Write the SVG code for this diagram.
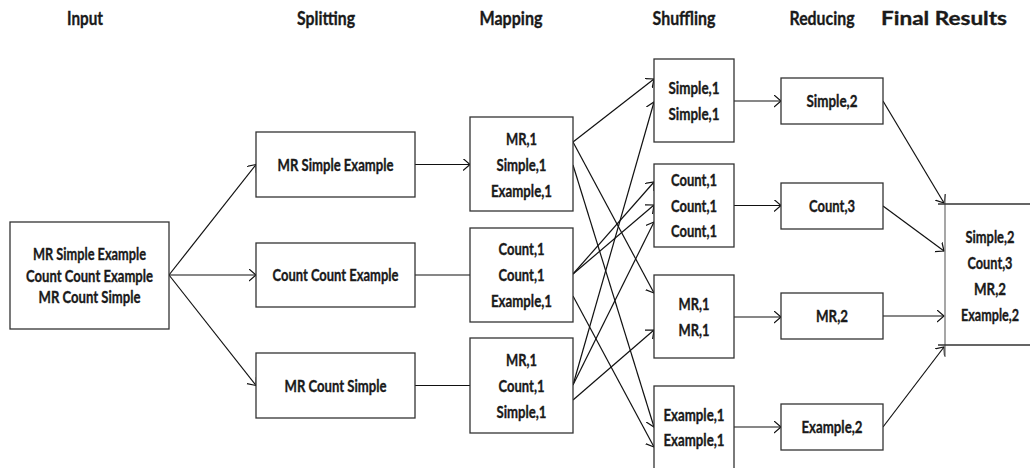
<svg xmlns="http://www.w3.org/2000/svg" width="1030" height="468" viewBox="0 0 1030 468">
<style>
.box{fill:#fff;stroke:#333;stroke-width:1.3}
.t{font-family:Lato,"Liberation Sans",sans-serif;font-weight:bold;font-size:17px;fill:#1a1a1a;stroke:#1a1a1a;stroke-width:0.35;text-anchor:middle}
.h{font-family:Lato,"Liberation Sans",sans-serif;font-weight:bold;font-size:19px;fill:#1a1a1a;stroke:#1a1a1a;stroke-width:0.35;text-anchor:middle}
.c{stroke:#111;stroke-width:1.2;fill:none}
.a{marker-end:url(#arr)}
</style>
<defs>
<marker id="arr" markerUnits="userSpaceOnUse" markerWidth="10" markerHeight="14" refX="7" refY="6" orient="auto">
<path d="M0,0 L7,6 L0,12" fill="none" stroke="#111" stroke-width="1.2"/>
</marker>
</defs>
<rect width="1030" height="468" fill="#fff"/>
<g id="headers">
<text class="h" x="85" y="25" textLength="36" lengthAdjust="spacingAndGlyphs">Input</text>
<text class="h" x="326" y="25" textLength="58" lengthAdjust="spacingAndGlyphs">Splitting</text>
<text class="h" x="511" y="25" textLength="63" lengthAdjust="spacingAndGlyphs">Mapping</text>
<text class="h" x="684" y="25" textLength="63" lengthAdjust="spacingAndGlyphs">Shuffling</text>
<text class="h" x="822" y="25" textLength="65" lengthAdjust="spacingAndGlyphs">Reducing</text>
<text class="h" x="944" y="25" textLength="126" lengthAdjust="spacingAndGlyphs">Final Results</text>
</g>
<g id="connectors">
<path class="c a" d="M169,275 L256,164.5"/>
<path class="c a" d="M169,275 L256,275"/>
<path class="c a" d="M169,275 L256,385.5"/>
<path class="c a" d="M415,164.5 L470,164.5"/>
<path class="c" d="M415,275 L470,275"/>
<path class="c" d="M415,385.5 L470,385.5"/>
<path class="c a" d="M573,142 L654,79"/>
<path class="c a" d="M573,142 L654,293"/>
<path class="c a" d="M573,165 L654,427"/>
<path class="c a" d="M573,274 L654,182"/>
<path class="c a" d="M573,274 L654,205"/>
<path class="c a" d="M573,296 L654,447"/>
<path class="c a" d="M573,385 L654,102"/>
<path class="c a" d="M573,385 L654,222"/>
<path class="c a" d="M573,400 L654,330"/>
<path class="c a" d="M734,101 L781,101"/>
<path class="c a" d="M734,205.5 L781,205.5"/>
<path class="c a" d="M734,317 L781,317"/>
<path class="c a" d="M734,427 L781,427"/>
<path class="c a" d="M883,101 L944,203"/>
<path class="c a" d="M883,206 L944,251"/>
<path class="c a" d="M883,316 L944,316"/>
<path class="c a" d="M883,427 L944,347"/>
</g>
<g id="input">
<rect class="box" x="10" y="222" width="159" height="107"/>
<text class="t" x="89.5" y="260" textLength="113" lengthAdjust="spacingAndGlyphs">MR Simple Example</text>
<text class="t" x="89.5" y="281.5" textLength="127" lengthAdjust="spacingAndGlyphs">Count Count Example</text>
<text class="t" x="89.5" y="303" textLength="102" lengthAdjust="spacingAndGlyphs">MR Count Simple</text>
</g>
<g id="split1">
<rect class="box" x="256" y="132" width="159" height="65"/>
<text class="t" x="335.5" y="170.5" textLength="116" lengthAdjust="spacingAndGlyphs">MR Simple Example</text>
</g>
<g id="split2">
<rect class="box" x="256" y="243" width="159" height="64"/>
<text class="t" x="335.5" y="281" textLength="126" lengthAdjust="spacingAndGlyphs">Count Count Example</text>
</g>
<g id="split3">
<rect class="box" x="256" y="353" width="159" height="65"/>
<text class="t" x="335.5" y="391.5" textLength="102" lengthAdjust="spacingAndGlyphs">MR Count Simple</text>
</g>
<g id="map1">
<rect class="box" x="470" y="117" width="103" height="94"/>
<text class="t" x="521.5" y="145" textLength="31" lengthAdjust="spacingAndGlyphs">MR,1</text>
<text class="t" x="521.5" y="171" textLength="50" lengthAdjust="spacingAndGlyphs">Simple,1</text>
<text class="t" x="521.5" y="197" textLength="61" lengthAdjust="spacingAndGlyphs">Example,1</text>
</g>
<g id="map2">
<rect class="box" x="470" y="228" width="103" height="94"/>
<text class="t" x="521.5" y="255" textLength="46" lengthAdjust="spacingAndGlyphs">Count,1</text>
<text class="t" x="521.5" y="281" textLength="46" lengthAdjust="spacingAndGlyphs">Count,1</text>
<text class="t" x="521.5" y="307" textLength="61" lengthAdjust="spacingAndGlyphs">Example,1</text>
</g>
<g id="map3">
<rect class="box" x="470" y="338" width="103" height="95"/>
<text class="t" x="521.5" y="366" textLength="31" lengthAdjust="spacingAndGlyphs">MR,1</text>
<text class="t" x="521.5" y="392" textLength="46" lengthAdjust="spacingAndGlyphs">Count,1</text>
<text class="t" x="521.5" y="418" textLength="50" lengthAdjust="spacingAndGlyphs">Simple,1</text>
</g>
<g id="shuf1">
<rect class="box" x="654" y="59" width="80" height="83"/>
<text class="t" x="694" y="94" textLength="51" lengthAdjust="spacingAndGlyphs">Simple,1</text>
<text class="t" x="694" y="120" textLength="51" lengthAdjust="spacingAndGlyphs">Simple,1</text>
</g>
<g id="shuf2">
<rect class="box" x="654" y="164" width="80" height="83"/>
<text class="t" x="694" y="186" textLength="46" lengthAdjust="spacingAndGlyphs">Count,1</text>
<text class="t" x="694" y="211.5" textLength="46" lengthAdjust="spacingAndGlyphs">Count,1</text>
<text class="t" x="694" y="237" textLength="46" lengthAdjust="spacingAndGlyphs">Count,1</text>
</g>
<g id="shuf3">
<rect class="box" x="654" y="275" width="80" height="83"/>
<text class="t" x="694" y="310" textLength="31" lengthAdjust="spacingAndGlyphs">MR,1</text>
<text class="t" x="694" y="336" textLength="31" lengthAdjust="spacingAndGlyphs">MR,1</text>
</g>
<g id="shuf4">
<rect class="box" x="654" y="386" width="80" height="84"/>
<text class="t" x="694" y="421" textLength="61" lengthAdjust="spacingAndGlyphs">Example,1</text>
<text class="t" x="694" y="446" textLength="61" lengthAdjust="spacingAndGlyphs">Example,1</text>
</g>
<g id="red1">
<rect class="box" x="781" y="78" width="102" height="46"/>
<text class="t" x="832" y="107" textLength="51" lengthAdjust="spacingAndGlyphs">Simple,2</text>
</g>
<g id="red2">
<rect class="box" x="781" y="183" width="102" height="46"/>
<text class="t" x="832" y="212" textLength="46" lengthAdjust="spacingAndGlyphs">Count,3</text>
</g>
<g id="red3">
<rect class="box" x="781" y="293" width="102" height="46"/>
<text class="t" x="832" y="322" textLength="32" lengthAdjust="spacingAndGlyphs">MR,2</text>
</g>
<g id="red4">
<rect class="box" x="781" y="404" width="102" height="46"/>
<text class="t" x="832" y="433" textLength="61" lengthAdjust="spacingAndGlyphs">Example,2</text>
</g>
<g id="final">
<rect x="945" y="204" width="85" height="141" fill="#fff"/>
<path d="M945,194 L945,357" stroke="#777" stroke-width="1.3" fill="none"/>
<path d="M938,204 L1030,204 M938,345 L1030,345" stroke="#333" stroke-width="1.3" fill="none"/>
<text class="t" x="990" y="243" textLength="49" lengthAdjust="spacingAndGlyphs">Simple,2</text>
<text class="t" x="990" y="269" textLength="45" lengthAdjust="spacingAndGlyphs">Count,3</text>
<text class="t" x="990" y="295" textLength="32" lengthAdjust="spacingAndGlyphs">MR,2</text>
<text class="t" x="990" y="321" textLength="58" lengthAdjust="spacingAndGlyphs">Example,2</text>
</g>
</svg>
